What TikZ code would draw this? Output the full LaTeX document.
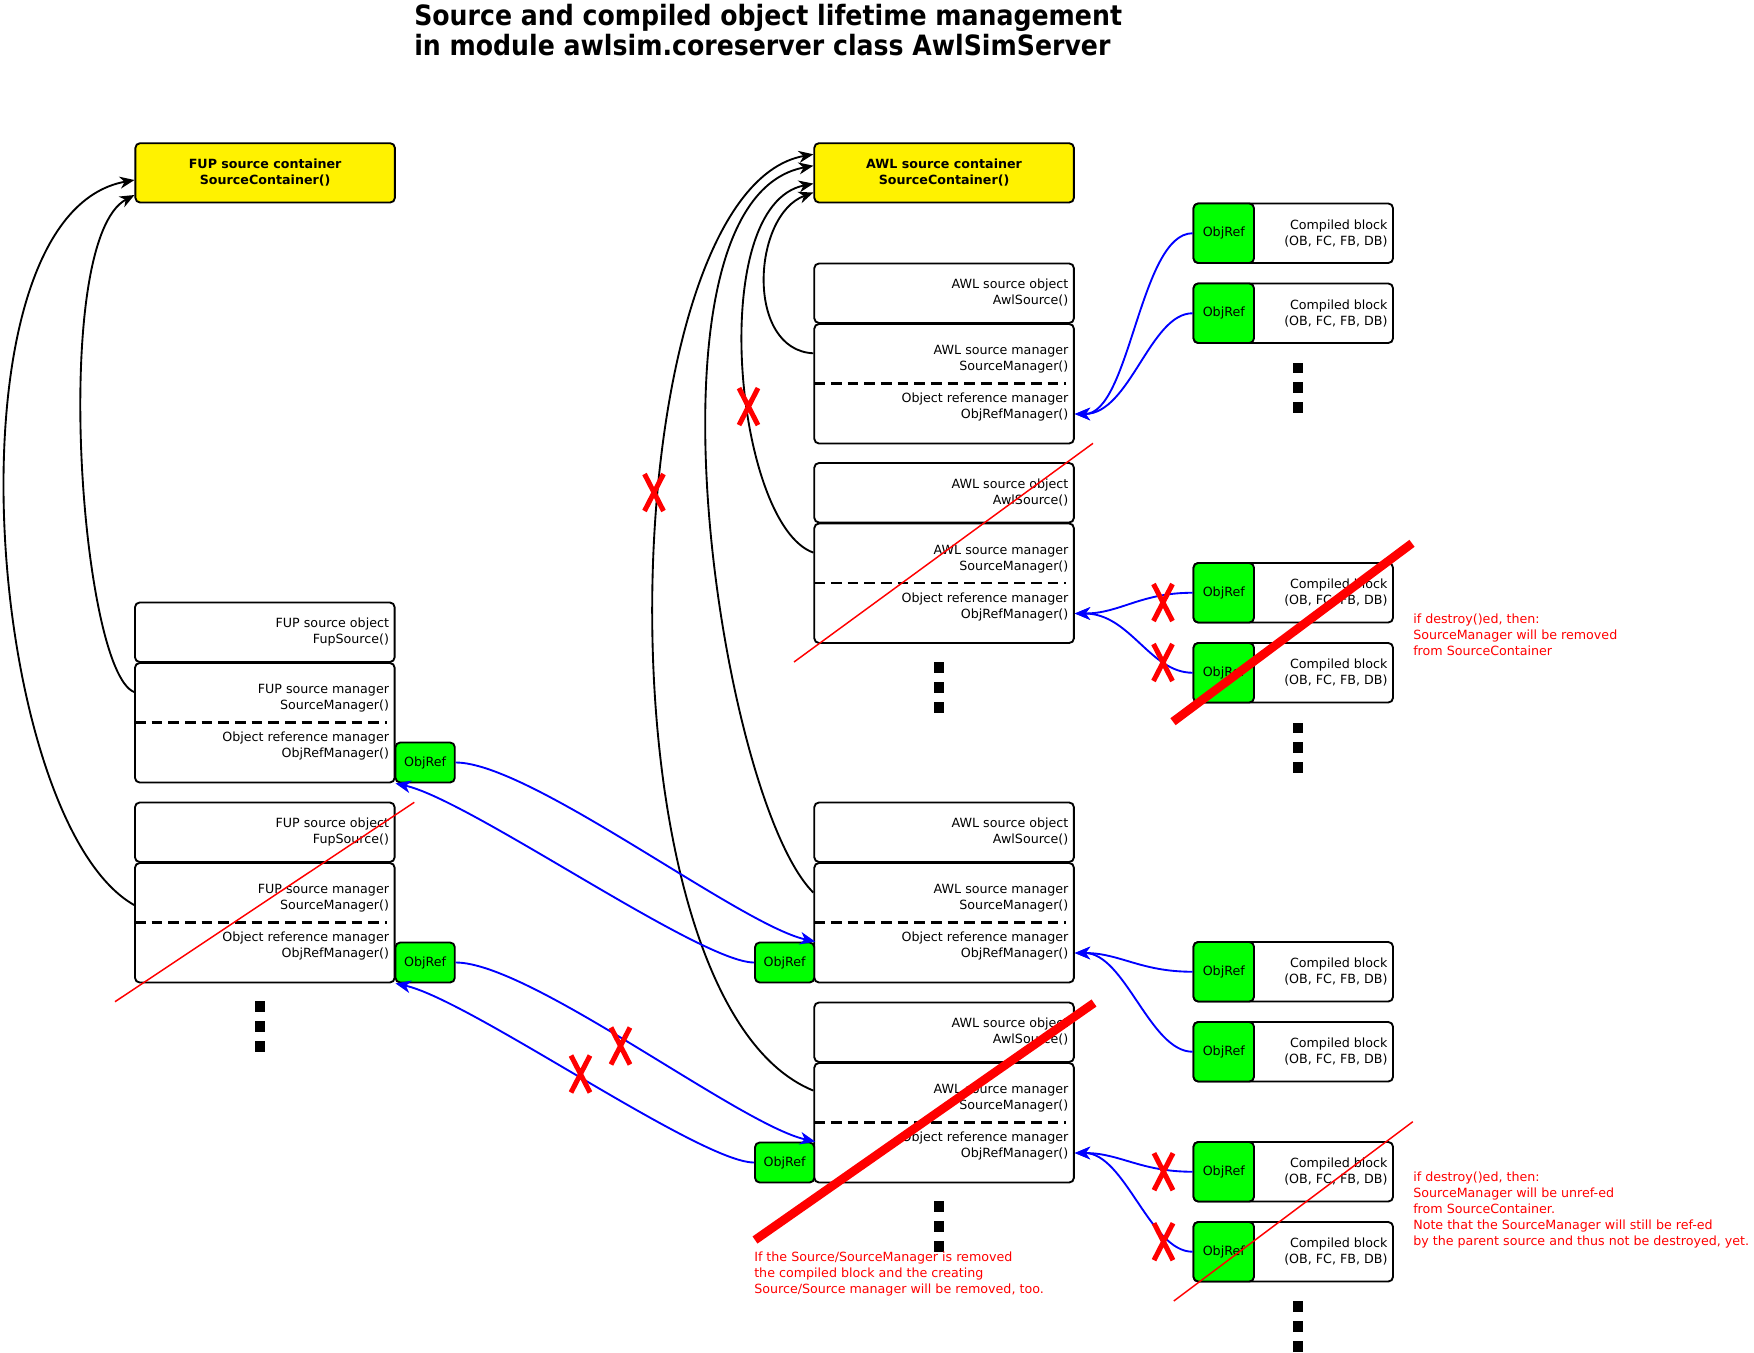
\documentclass[tikz,border=0pt]{standalone}
\usepackage{fontspec}
\setmainfont{DejaVu Sans}
\newfontfamily\titlefont{DejaVu Sans}[FakeStretch=0.9]
\usetikzlibrary{arrows.meta,fit,calc}

\newcommand\srcpair[6]{%
  \pgfmathsetmacro\pxR{#2+259.6}%
  \pgfmathsetmacro\pyA{#3+59.5}%
  \pgfmathsetmacro\pyB{#3+60.5}%
  \pgfmathsetmacro\pyC{#3+180}%
  \pgfmathsetmacro\pyD{#3+120}%
  \pgfmathsetmacro\pxT{#2+254.3}%
  \pgfmathsetmacro\pxE{#2+251.6}%
  \pgfmathsetmacro\pyO{#3+29.5}%
  \pgfmathsetmacro\pyU{#3+96}%
  \pgfmathsetmacro\pyL{#3+143.5}%
  \node[box, fit={(#2,#3) (\pxR,\pyA)}] (#1o) {};
  \node[rtxt] (#1ot) at (\pxT,\pyO) {#4\\#5};
  \node[box, fit={(#2,\pyB) (\pxR,\pyC)}] (#1m) {};
  \draw[dashline] (#2,\pyD) -- (\pxE,\pyD);
  \node[rtxt] (#1mt) at (\pxT,\pyU) {#6\\SourceManager()};
  \node[rtxt] (#1rt) at (\pxT,\pyL) {Object reference manager\\ObjRefManager()};
}

\newcommand\cblock[2]{%
  \pgfmathsetmacro\pyA{#2+59.5}%
  \pgfmathsetmacro\pyM{#2+29.75}%
  \node[box, fit={(1193.5,#2) (1393,\pyA)}] (#1) {};
  \node[refbox, fit={(1193.5,#2) (1254,\pyA)}] (#1g) {};
  \node[ctxt] (#1gl) at (#1g.center) {ObjRef};
  \node[rtxt] (#1t) at (1387.8,\pyM) {Compiled block\\(OB, FC, FB, DB)};
}

\begin{document}
\begin{tikzpicture}[x=0.75pt,y=-0.75pt,
  box/.style={draw, line width=1.4pt, rounded corners=3.5pt, inner sep=0pt, fill=white},
  contbox/.style={box, fill=yellow},
  refbox/.style={box, fill=green},
  ctxt/.style={inner sep=0pt, align=center, font=\fontsize{9.5}{12}\selectfont},
  boldtxt/.style={ctxt, font=\bfseries\fontsize{9.5}{12}\selectfont},
  rtxt/.style={inner sep=0pt, anchor=east, align=right, font=\fontsize{9.5}{12}\selectfont},
  redtxt/.style={inner sep=0pt, anchor=west, align=left, text=red, font=\fontsize{9.5}{12}\selectfont},
  titletxt/.style={inner sep=0pt, anchor=base west, font=\titlefont\bfseries\fontsize{21}{25}\selectfont},
  dashline/.style={line width=1.6pt, dash pattern=on 8pt off 4.5pt},
  dotsq/.style={fill=black, inner sep=0pt, minimum size=7.9pt},
  blk/.style={line width=1.4pt, -{Stealth[length=11pt,width=9pt,inset=3.5pt]}},
  blu/.style={line width=1.4pt, blue, -{Stealth[length=11.5pt,width=9.5pt,inset=3.5pt]}},
  thinred/.style={red, line width=1.1pt},
  thickred/.style={red, line width=6.5pt},
  redx/.pic={\draw[red, line width=3.75pt] (-9.5,-18.5) -- (9.5,18.5) (9.5,-18.5) -- (-9.5,18.5);},
]
\fill[white] (0,0) rectangle (1754,1353);
\useasboundingbox (0,0) rectangle (1754,1353);

% title
\node[titletxt] (title1) at (414,25) {Source and compiled object lifetime management};
\node[titletxt] (title2) at (414,55) {in module awlsim.coreserver class AwlSimServer};

% containers
\node[contbox, fit={(135.4,143.2) (394.9,202.5)}] (fc) {};
\node[boldtxt] (fct) at (fc.center) {FUP source container\\SourceContainer()};
\node[contbox, fit={(814.3,143.2) (1073.9,202.5)}] (ac) {};
\node[boldtxt] (act) at (ac.center) {AWL source container\\SourceContainer()};

% FUP sources
\srcpair{f1}{135}{602.5}{FUP source object}{FupSource()}{FUP source manager}
\srcpair{f2}{135}{802.5}{FUP source object}{FupSource()}{FUP source manager}
\node[refbox, fit={(395.5,742.5) (454.8,782.5)}] (f1r) {};
\node[ctxt] (f1rl) at (f1r.center) {ObjRef};
\node[refbox, fit={(395.5,942.5) (454.8,982.5)}] (f2r) {};
\node[ctxt] (f2rl) at (f2r.center) {ObjRef};

% AWL sources
\srcpair{a1}{814.3}{263.5}{AWL source object}{AwlSource()}{AWL source manager}
\srcpair{a2}{814.3}{463}{AWL source object}{AwlSource()}{AWL source manager}
\srcpair{a3}{814.3}{802.5}{AWL source object}{AwlSource()}{AWL source manager}
\srcpair{a4}{814.3}{1002.5}{AWL source object}{AwlSource()}{AWL source manager}
\node[refbox, fit={(755,942.5) (814.3,982.5)}] (a3r) {};
\node[ctxt] (a3rl) at (a3r.center) {ObjRef};
\node[refbox, fit={(755,1142.5) (814.3,1182.5)}] (a4r) {};
\node[ctxt] (a4rl) at (a4r.center) {ObjRef};

% compiled blocks
\cblock{c1}{203.5}
\cblock{c2}{283.5}
\cblock{c3}{563}
\cblock{c4}{643}
\cblock{c5}{942}
\cblock{c6}{1022}
\cblock{c7}{1142}
\cblock{c8}{1222}

% dots
\node[dotsq] (d1) at (260,1006.7) {};
\node[dotsq] (d2) at (260,1026.7) {};
\node[dotsq] (d3) at (260,1046.7) {};
\node[dotsq] (d4) at (938.8,667.7) {};
\node[dotsq] (d5) at (938.8,687.5) {};
\node[dotsq] (d6) at (938.8,707.3) {};
\node[dotsq] (d7) at (938.8,1206.7) {};
\node[dotsq] (d8) at (938.8,1226.7) {};
\node[dotsq] (d9) at (938.8,1246.7) {};
\node[dotsq] (d10) at (1298,368) {};
\node[dotsq] (d11) at (1298,387.7) {};
\node[dotsq] (d12) at (1298,407.5) {};
\node[dotsq] (d13) at (1298,728) {};
\node[dotsq] (d14) at (1298,747.5) {};
\node[dotsq] (d15) at (1298,767.5) {};
\node[dotsq] (d16) at (1298,1306.7) {};
\node[dotsq] (d17) at (1298,1326.7) {};
\node[dotsq] (d18) at (1298,1346.7) {};

% black connectors: FUP managers -> FUP container
\draw[blk] (f1m.west |- 0,692) .. controls (80,670) and (50,240) .. (fc.west |- 0,195);
\draw[blk] (f2m.west |- 0,905) .. controls (-15,820) and (-60,215) .. (fc.west |- 0,180);

% black connectors: AWL managers -> AWL container
\draw[blk] (a1m.west |- 0,353.3) .. controls (745,350) and (752,215) .. (ac.west |- 0,192.5);
\draw[blk] (a2m.west |- 0,552.6) .. controls (735,525) and (705,205) .. (ac.west |- 0,183.6);
\draw[blk] (a3m.west |- 0,892.6) .. controls (720,800) and (630,200) .. (ac.west |- 0,165.7);
\draw[blk] (a4m.west |- 0,1090.6) .. controls (590,1000) and (610,190) .. (ac.west |- 0,154.3);

% blue connectors between FUP and AWL
\draw[blu] (f1r.east) .. controls (530,762.5) and (740,925) .. (a3r.north east);
\draw[blu] (a3r.west) .. controls (700,962.5) and (470,800) .. (f1m.south east);
\draw[blu] (f2r.east) .. controls (530,962.5) and (740,1125) .. (a4r.north east);
\draw[blu] (a4r.west) .. controls (700,1162.5) and (470,1000) .. (f2m.south east);

% blue connectors: compiled blocks -> object reference managers
\draw[blu] (c1g.west) .. controls (1140,233.25) and (1130,414) .. (a1m.east |- 0,414);
\draw[blu] (c2g.west) .. controls (1150,313.25) and (1130,414) .. (a1m.east |- 0,414);
\draw[blu] (c3g.west) .. controls (1140,592.75) and (1120,613.5) .. (a2m.east |- 0,613.5);
\draw[blu] (c4g.west) .. controls (1150,672.75) and (1130,613.5) .. (a2m.east |- 0,613.5);
\draw[blu] (c5g.west) .. controls (1140,971.75) and (1120,953) .. (a3m.east |- 0,953);
\draw[blu] (c6g.west) .. controls (1150,1051.75) and (1125,953) .. (a3m.east |- 0,953);
\draw[blu] (c7g.west) .. controls (1140,1171.75) and (1120,1153) .. (a4m.east |- 0,1153);
\draw[blu] (c8g.west) .. controls (1150,1251.75) and (1125,1153) .. (a4m.east |- 0,1153);

% red strike lines
\draw[thinred] (115,1001.7) -- (414.3,802.3);
\draw[thinred] (794,662) -- (1093,443.3);
\draw[thinred] (1173.8,1301) -- (1412.8,1121.7);
\draw[thickred] (755,1240) -- (1094,1003);
\draw[thickred] (1173,721.7) -- (1412,543.3);

% red crosses
\pic (x1) at (654,492.5) {redx};
\pic (x2) at (748.5,406.6) {redx};
\pic (x3) at (620.5,1046) {redx};
\pic (x4) at (580.5,1074) {redx};
\pic (x5) at (1163,602.5) {redx};
\pic (x6) at (1163,662.5) {redx};
\pic (x7) at (1163.5,1171.7) {redx};
\pic (x8) at (1163.5,1241.7) {redx};

% red notes
\node[redtxt] (n1) at (1413,635) {if destroy()ed, then:\\SourceManager will be removed\\from SourceContainer};
\node[redtxt] (n2) at (1413,1209.7) {if destroy()ed, then:\\SourceManager will be unref-ed\\from SourceContainer.\\Note that the SourceManager will still be ref-ed\\by the parent source and thus not be destroyed, yet.};
\node[redtxt] (n3) at (754,1273.7) {If the Source/SourceManager is removed\\the compiled block and the creating\\Source/Source manager will be removed, too.};
\end{tikzpicture}
\end{document}
